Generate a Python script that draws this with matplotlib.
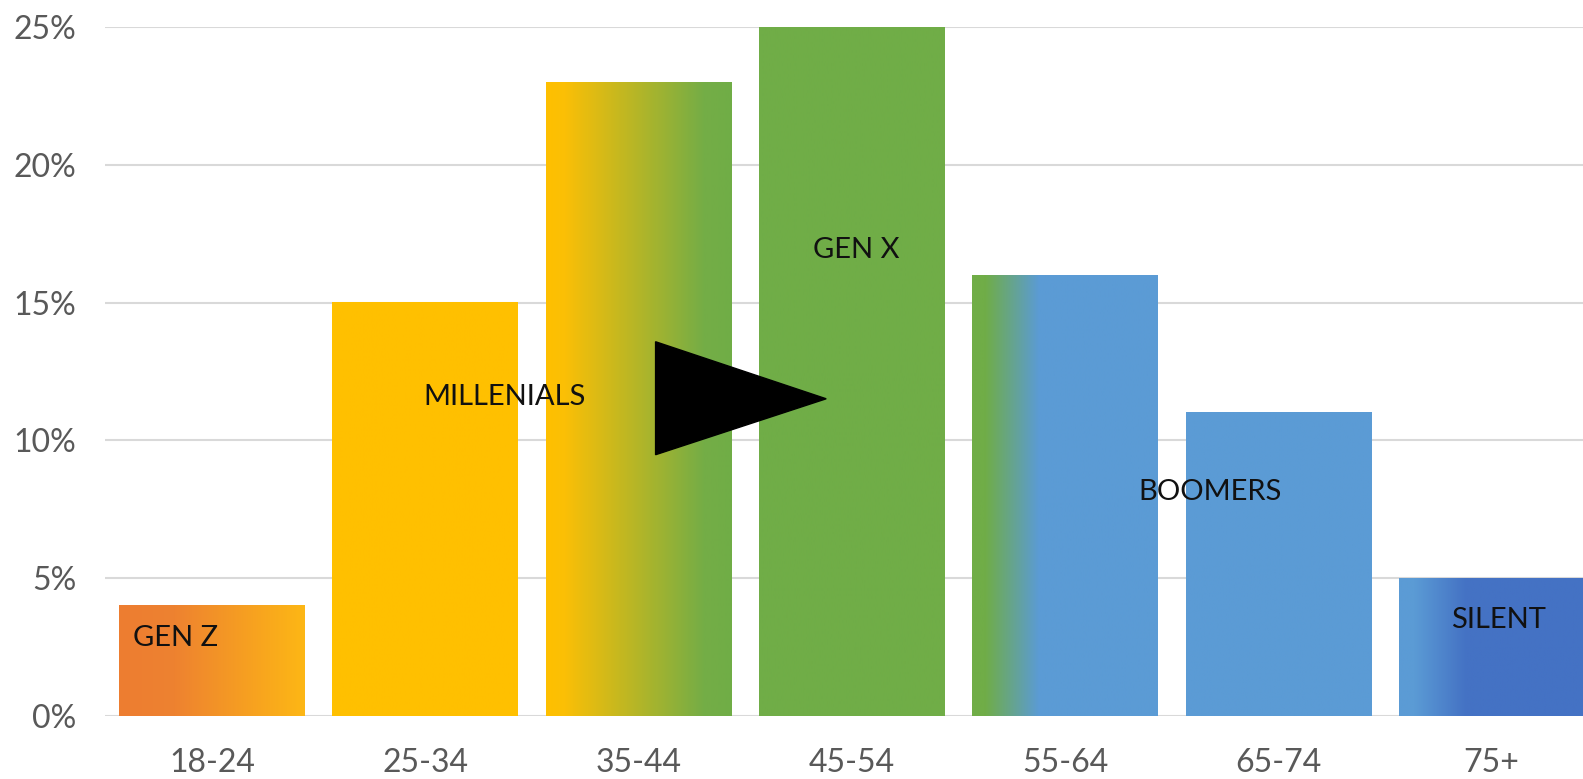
import numpy as np
import matplotlib.pyplot as plt
from matplotlib.colors import LinearSegmentedColormap
from matplotlib.patches import Polygon

# data
age_groups = ['18-24', '25-34', '35-44', '45-54', '55-64', '65-74', '75+']
share = [4, 15, 23, 25, 16, 11, 5]
generations = ['GEN Z', 'MILLENIALS', 'GEN X', 'BOOMERS', 'SILENT']
y_ticks = [0, 5, 10, 15, 20, 25]

ORANGE = '#ED7D31'
YELLOW = '#FFC000'
GREEN = '#70AD47'
BLUE = '#5B9BD5'
DARKBLUE = '#4472C4'

# left-to-right gradient stops for each bar
fills = [
    [(0, ORANGE), (0.3, '#EE8230'), (1, '#FDB715')],
    [(0, YELLOW), (1, YELLOW)],
    [(0, YELLOW), (0.1, '#FBBF06'), (0.85, '#74AD46'), (1, GREEN)],
    [(0, GREEN), (1, GREEN)],
    [(0, GREEN), (0.07, GREEN), (0.36, BLUE), (1, BLUE)],
    [(0, BLUE), (1, BLUE)],
    [(0, BLUE), (0.08, BLUE), (0.36, DARKBLUE), (1, DARKBLUE)],
]

plt.rcParams['font.family'] = ['Lato', 'DejaVu Sans']

fig = plt.figure(figsize=(15.83, 7.79), dpi=100)
ax = fig.add_axes([105.3 / 1583, 63 / 779, 1493 / 1583, 689 / 779])

x = np.arange(len(age_groups))
bars = ax.bar(x, share, width=0.87, color='none', zorder=2)

for rect, stops in zip(bars, fills):
    cmap = LinearSegmentedColormap.from_list('g', stops)
    x0, w, h = rect.get_x(), rect.get_width(), rect.get_height()
    grad = np.linspace(0, 1, 256).reshape(1, -1)
    ax.imshow(grad, cmap=cmap, extent=[x0, x0 + w, 0, h], aspect='auto',
              interpolation='bilinear', zorder=2)

ax.set_xlim(-0.5, 6.5)
ax.set_ylim(0, 25)
ax.set_yticks(y_ticks)
ax.set_yticklabels([f'{t}%' for t in y_ticks])
ax.set_xticks(x)
ax.set_xticklabels(age_groups)
ax.grid(axis='y', color='#D9D9D9', linewidth=1.5, zorder=0)
ax.set_axisbelow(True)
for s in ax.spines.values():
    s.set_visible(False)
ax.tick_params(axis='both', length=0, labelsize=23, labelcolor='#595959')
ax.tick_params(axis='y', pad=21)
ax.tick_params(axis='x', pad=23)

# generation labels
label_pos = [(-0.17, 2.83), (1.37, 11.58), (3.02, 16.92), (4.68, 8.13), (6.03, 3.49)]
for name, (lx, ly) in zip(generations, label_pos):
    ax.text(lx, ly, name, ha='center', va='center', fontsize=21,
            color='#111111', zorder=4)

# arrow
tri = Polygon([(2.08, 13.58), (2.08, 9.48), (2.88, 11.51)], closed=True,
              facecolor='black', edgecolor='black', zorder=3)
ax.add_patch(tri)

fig.savefig('out.png', dpi=100)
